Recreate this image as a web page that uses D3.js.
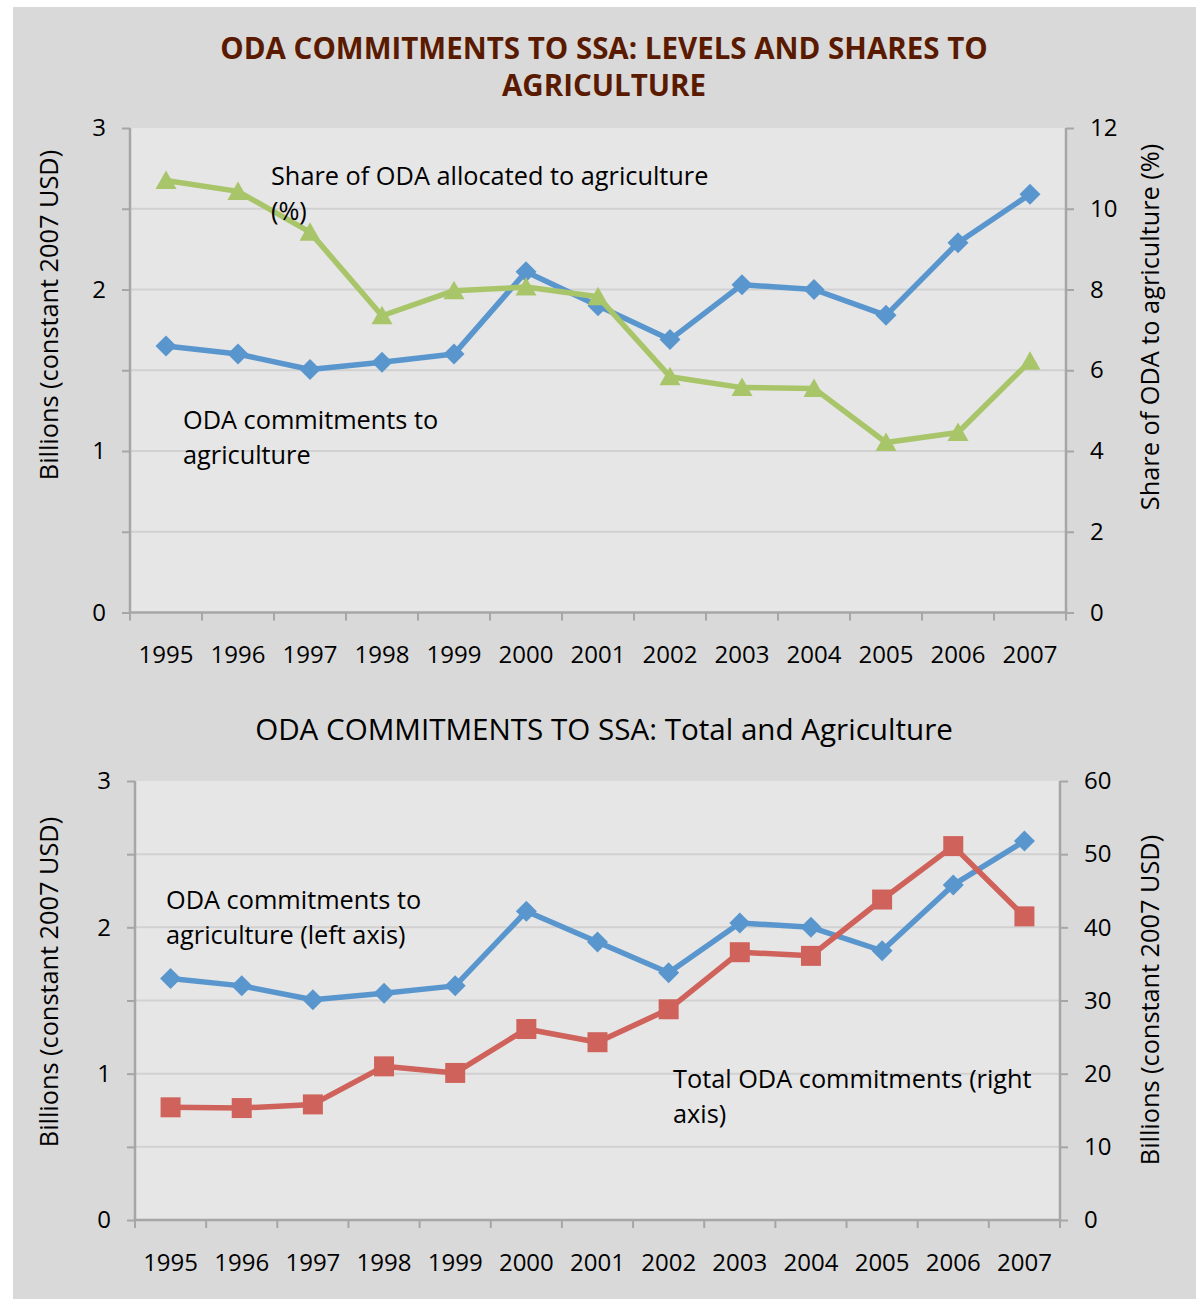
<!DOCTYPE html>
<html>
<head>
<meta charset="utf-8">
<script src="https://cdn.jsdelivr.net/npm/d3@7"></script>
<style>
  html, body { margin: 0; padding: 0; background: #ffffff; }
  svg { display: block; }
  text { font-family: "Open Sans", "Noto Sans", sans-serif; fill: #000; }
</style>
</head>
<body>
<svg id="chart" width="1200" height="1299"></svg>
<script>
// Years on the category axis
const years = ["1995","1996","1997","1998","1999","2000","2001","2002","2003","2004","2005","2006","2007"];
// ODA commitments to agriculture, billions of constant 2007 USD
const agriOda = [1.65, 1.60, 1.505, 1.55, 1.60, 2.11, 1.90, 1.69, 2.03, 2.00, 1.84, 2.29, 2.59];
// Share of ODA allocated to agriculture, %
const agriShare = [10.70, 10.43, 9.42, 7.35, 7.97, 8.06, 7.82, 5.84, 5.57, 5.55, 4.21, 4.46, 6.22];
// Total ODA commitments, billions of constant 2007 USD
const totalOda = [15.4, 15.3, 15.8, 21.0, 20.1, 26.1, 24.3, 28.8, 36.6, 36.1, 43.8, 51.1, 41.5];

// Axis ticks
const leftTicks = [0, 0.5, 1, 1.5, 2, 2.5, 3];
const shareTicks = [0, 2, 4, 6, 8, 10, 12];
const totalTicks = [0, 10, 20, 30, 40, 50, 60];

const COL = {
  blue: "#5a96ce",
  green: "#a9c56a",
  red: "#cf635b",
  panel: "#d9d9d9",
  plot: "#e6e6e6",
  grid: "#d1d1d1",
  axis: "#a6a6a6",
  title: "#5a1a00"
};

const svg = d3.select("#chart");

// outer chart background
svg.append("rect")
  .attr("x", 13).attr("y", 7).attr("width", 1183).attr("height", 1292)
  .attr("fill", COL.panel);

// marker shapes
function markerPath(kind) {
  if (kind === "diamond") return "M0,-10.5L10.5,0L0,10.5L-10.5,0Z";
  if (kind === "triangle") return "M0,-10L10.5,8.5L-10.5,8.5Z";
  return "M-10,-10H10V10H-10Z";
}

function drawPanel(cfg) {
  const g = svg.append("g");
  const x = d3.scaleBand().domain(years).range([cfg.left, cfg.right]);
  const yL = d3.scaleLinear().domain([0, 3]).range([cfg.bottom, cfg.top]);
  const yR = d3.scaleLinear().domain([0, cfg.rightMax]).range([cfg.bottom, cfg.top]);

  // plot area
  g.append("rect")
    .attr("x", cfg.left).attr("y", cfg.top)
    .attr("width", cfg.right - cfg.left).attr("height", cfg.bottom - cfg.top)
    .attr("fill", COL.plot);

  // horizontal gridlines
  g.append("g").selectAll("line")
    .data(leftTicks.filter(v => v > 0 && v < 3))
    .join("line")
    .attr("x1", cfg.left).attr("x2", cfg.right)
    .attr("y1", d => yL(d)).attr("y2", d => yL(d))
    .attr("stroke", COL.grid).attr("stroke-width", 2);

  // left axis
  const axL = g.append("g")
    .attr("transform", `translate(${cfg.left},0)`)
    .call(d3.axisLeft(yL).tickValues(leftTicks).tickSize(8).tickPadding(16)
      .tickFormat(d => Number.isInteger(d) ? d3.format("d")(d) : ""));
  // right axis
  const axR = g.append("g")
    .attr("transform", `translate(${cfg.right},0)`)
    .call(d3.axisRight(yR).tickValues(cfg.rightTicks).tickSize(8).tickPadding(16)
      .tickFormat(d3.format("d")));
  // category axis labels
  const axB = g.append("g")
    .attr("transform", `translate(0,${cfg.bottom})`)
    .call(d3.axisBottom(x).tickSize(0).tickPadding(cfg.catPad));
  axB.select(".domain").remove();
  // category boundary ticks
  const edges = years.map(y => x(y)).concat([cfg.right]);
  g.append("g").selectAll("line")
    .data(edges).join("line")
    .attr("x1", d => d).attr("x2", d => d)
    .attr("y1", cfg.bottom).attr("y2", cfg.bottom + 8)
    .attr("stroke", COL.axis).attr("stroke-width", 2);
  g.append("line")
    .attr("x1", cfg.left).attr("x2", cfg.right)
    .attr("y1", cfg.bottom).attr("y2", cfg.bottom)
    .attr("stroke", COL.axis).attr("stroke-width", 2.5);

  [axL, axR, axB].forEach(a => {
    a.selectAll(".domain").attr("stroke", COL.axis).attr("stroke-width", 2.5);
    a.selectAll(".tick line").attr("stroke", COL.axis).attr("stroke-width", 2);
    a.selectAll(".tick text")
      .attr("font-family", "'Open Sans', 'Noto Sans', sans-serif")
      .attr("font-size", 24).attr("fill", "#000");
  });
  axL.select(".domain").attr("d", `M0,${cfg.top}V${cfg.bottom}`);
  axR.select(".domain").attr("d", `M0,${cfg.top}V${cfg.bottom}`);

  // axis titles
  g.append("text")
    .attr("transform", `translate(${cfg.ltX},${cfg.ltY}) rotate(-90)`)
    .attr("text-anchor", "middle").attr("font-size", 25.3)
    .text("Billions (constant 2007 USD)");
  g.append("text")
    .attr("transform", `translate(${cfg.rtX},${cfg.rtY}) rotate(-90)`)
    .attr("text-anchor", "middle").attr("font-size", 25.3)
    .text(cfg.rightTitle);

  const cx = d => x(d) + x.bandwidth() / 2;

  function series(values, scale, color, kind) {
    const line = d3.line().x((d, i) => cx(years[i])).y(d => scale(d));
    g.append("path").datum(values)
      .attr("d", line).attr("fill", "none")
      .attr("stroke", color).attr("stroke-width", 5.5)
      .attr("stroke-linejoin", "round");
    g.append("g").selectAll("path")
      .data(values).join("path")
      .attr("transform", (d, i) => `translate(${cx(years[i])},${scale(d)})`)
      .attr("d", markerPath(kind))
      .attr("fill", color);
  }
  return { x, yL, yR, series, g };
}

// ---------- Panel 1: levels and shares ----------
svg.append("text")
  .attr("x", 604).attr("y", 59).attr("text-anchor", "middle")
  .attr("font-size", 29.5).attr("font-weight", "bold").style("fill", COL.title)
  .text("ODA COMMITMENTS TO SSA: LEVELS AND SHARES TO");
svg.append("text")
  .attr("x", 604).attr("y", 96).attr("text-anchor", "middle")
  .attr("font-size", 29.5).attr("font-weight", "bold").style("fill", COL.title)
  .text("AGRICULTURE");

const p1 = drawPanel({
  left: 130, right: 1066, top: 128, bottom: 612.5,
  rightMax: 12, rightTicks: shareTicks, catPad: 33,
  rightTitle: "Share of ODA to agriculture (%)",
  ltX: 58, ltY: 315, rtX: 1159, rtY: 327
});
p1.series(agriOda, p1.yL, COL.blue, "diamond");
p1.series(agriShare, p1.yR, COL.green, "triangle");

function note(g, x, y, lines) {
  const t = g.append("text").attr("x", x).attr("y", y).attr("font-size", 25.3);
  lines.forEach((s, i) => t.append("tspan").attr("x", x).attr("dy", i ? 34.5 : 0).text(s));
}
note(p1.g, 271, 185, ["Share of ODA allocated to agriculture", "(%)"]);
note(p1.g, 183, 429, ["ODA commitments to", "agriculture"]);

// ---------- Panel 2: total and agriculture ----------
svg.append("text")
  .attr("x", 604).attr("y", 740).attr("text-anchor", "middle")
  .attr("font-size", 29.6)
  .text("ODA COMMITMENTS TO SSA: Total and Agriculture");

const p2 = drawPanel({
  left: 135, right: 1060, top: 781, bottom: 1220,
  rightMax: 60, rightTicks: totalTicks, catPad: 34,
  rightTitle: "Billions (constant 2007 USD)",
  ltX: 58, ltY: 982, rtX: 1159, rtY: 1000
});
p2.series(agriOda, p2.yL, COL.blue, "diamond");
p2.series(totalOda, p2.yR, COL.red, "square");

note(p2.g, 166, 909, ["ODA commitments to", "agriculture (left axis)"]);
note(p2.g, 673, 1088, ["Total ODA commitments (right", "axis)"]);
</script>
</body>
</html>
